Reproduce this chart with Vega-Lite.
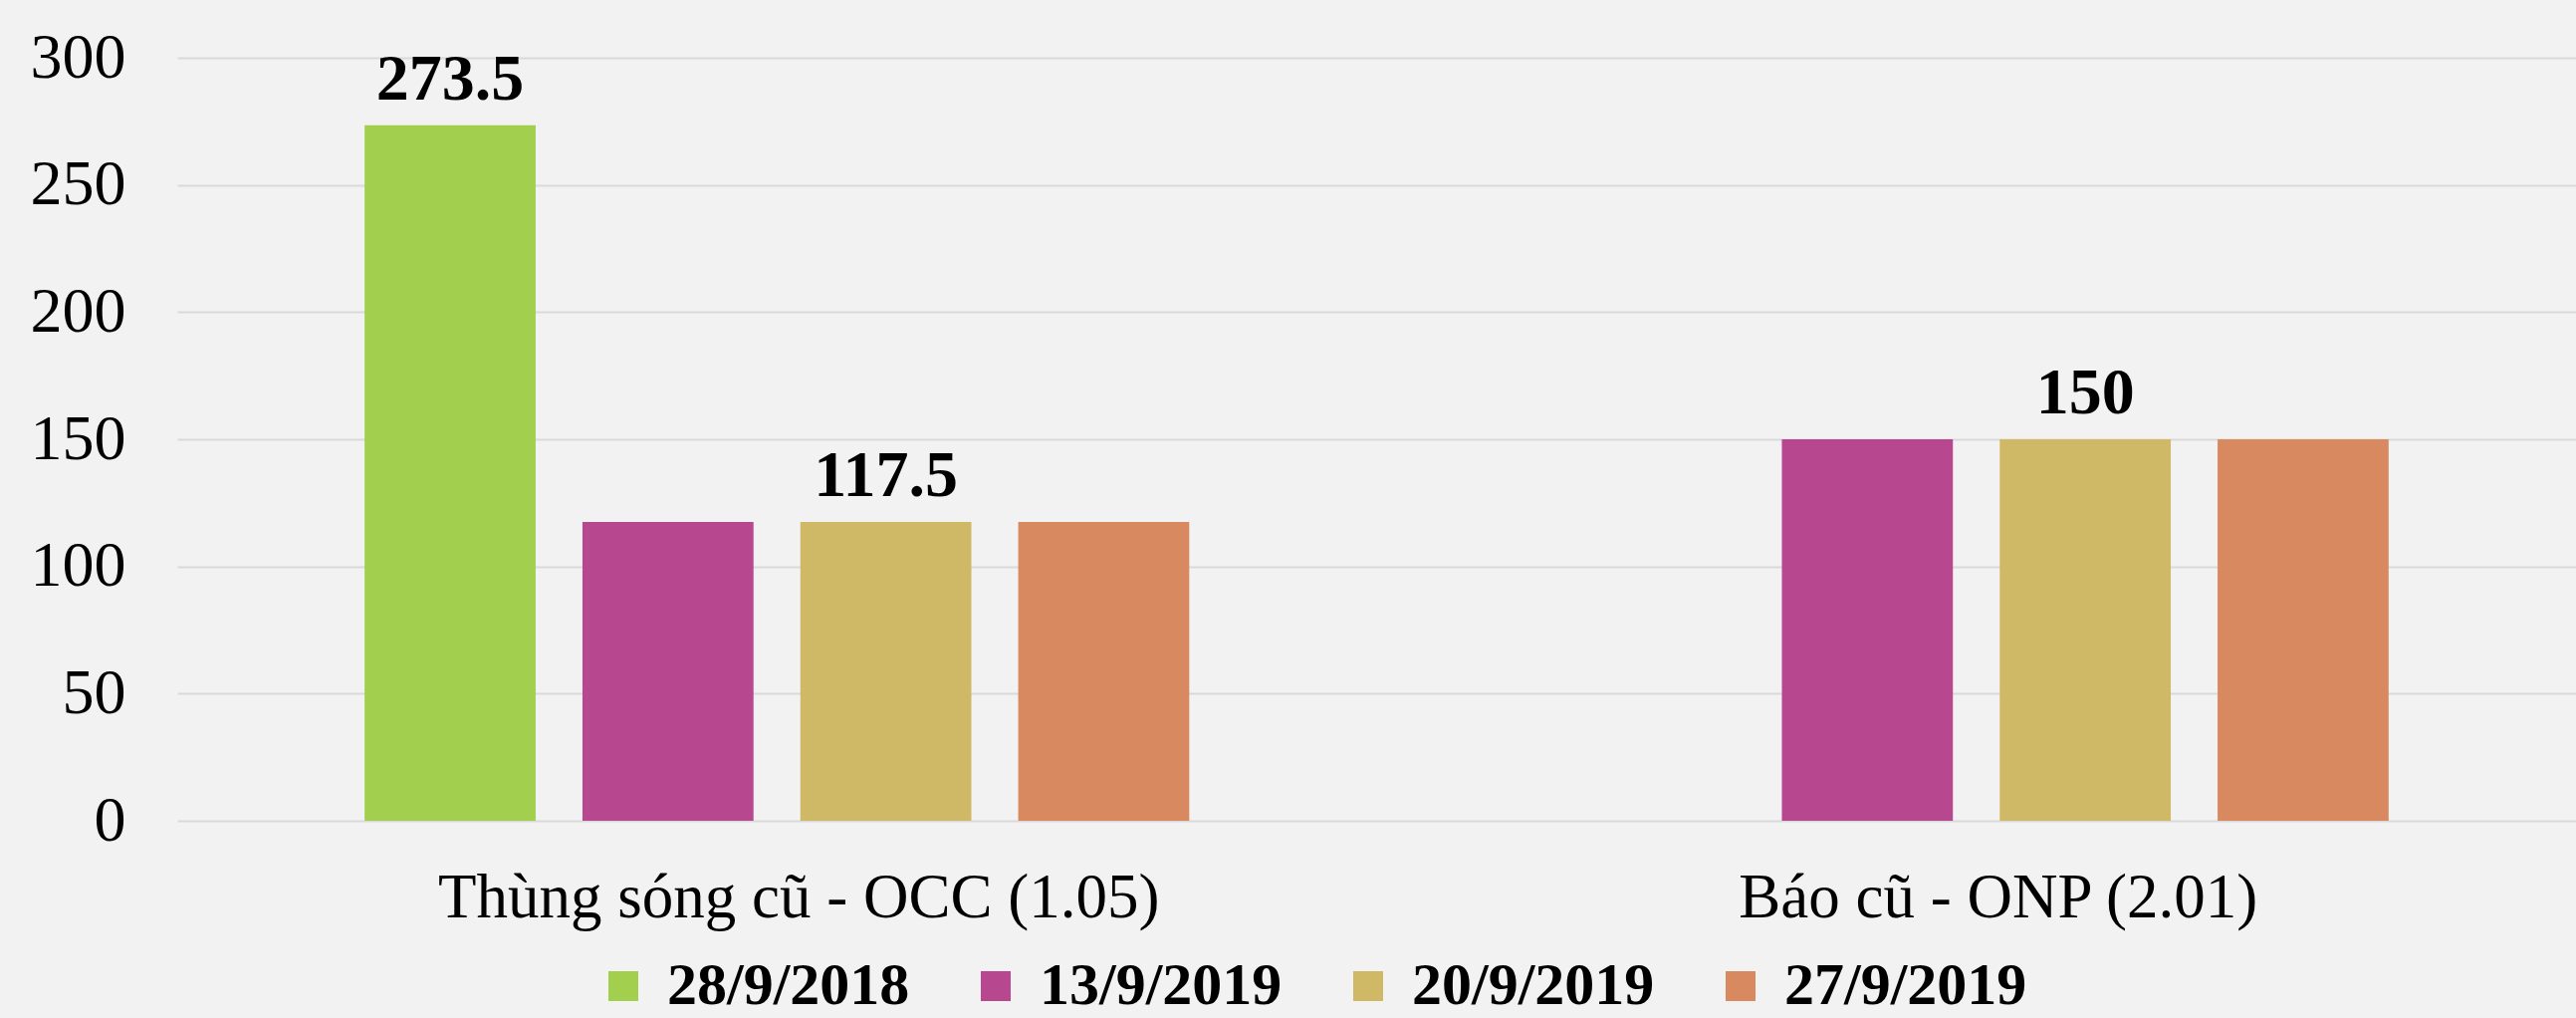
{
  "$schema": "https://vega.github.io/schema/vega-lite/v6.json",
  "autosize": {"type": "none"},
  "padding": {"left": 178, "top": 58, "right": 0, "bottom": 198},
  "width": 2409,
  "height": 766,
  "background": "#f3f2f2",
  "data": {
    "values": [
      {"product": "Thùng sóng cũ - OCC (1.05)", "date": "28/9/2018", "price": 273.5},
      {"product": "Thùng sóng cũ - OCC (1.05)", "date": "13/9/2019", "price": 117.5},
      {"product": "Thùng sóng cũ - OCC (1.05)", "date": "20/9/2019", "price": 117.5},
      {"product": "Thùng sóng cũ - OCC (1.05)", "date": "27/9/2019", "price": 117.5},
      {"product": "Báo cũ - ONP (2.01)", "date": "13/9/2019", "price": 150},
      {"product": "Báo cũ - ONP (2.01)", "date": "20/9/2019", "price": 150},
      {"product": "Báo cũ - ONP (2.01)", "date": "27/9/2019", "price": 150}
    ]
  },
  "encoding": {
    "x": {
      "field": "product", "type": "nominal",
      "sort": ["Thùng sóng cũ - OCC (1.05)", "Báo cũ - ONP (2.01)"],
      "scale": {"paddingInner": 0, "paddingOuter": 0},
      "axis": {"title": null, "labelAngle": 0, "domain": false, "ticks": false, "labelPadding": 46, "labelOffset": 22, "labelFontSize": 63, "labelLimit": 0, "labelFont": "Liberation Serif", "labelColor": "#000000"}
    },
    "xOffset": {
      "field": "date", "type": "nominal",
      "sort": ["28/9/2018", "13/9/2019", "20/9/2019", "27/9/2019"],
      "scale": {"domain": ["28/9/2018", "13/9/2019", "20/9/2019", "27/9/2019"], "paddingInner": 0.215, "paddingOuter": 0.86}
    },
    "y": {
      "field": "price", "type": "quantitative",
      "scale": {"domain": [0, 300], "nice": false},
      "axis": {"title": null, "values": [0, 50, 100, 150, 200, 250, 300], "domain": false, "ticks": false, "labelPadding": 52, "labelFontSize": 64, "labelFont": "Liberation Serif", "labelColor": "#000000", "gridColor": "#d9d9d9", "gridWidth": 2}
    }
  },
  "layer": [
    {
      "mark": {"type": "bar"},
      "encoding": {
        "color": {
          "field": "date", "type": "nominal",
          "scale": {"domain": ["28/9/2018", "13/9/2019", "20/9/2019", "27/9/2019"], "range": ["#a2cf4e", "#b74890", "#cfb967", "#d98960"]},
          "legend": {
            "title": null, "orient": "none", "direction": "horizontal",
            "legendX": 418, "legendY": 902,
            "symbolType": "square", "symbolSize": 900, "symbolStrokeWidth": 0,
            "labelFont": "Liberation Serif", "labelFontSize": 60, "labelFontWeight": "bold", "labelColor": "#000000",
            "labelOffset": 14, "columnPadding": 56, "labelLimit": 400
          }
        }
      }
    },
    {
      "transform": [{"filter": "datum.date == '28/9/2018' || datum.date == '20/9/2019'"}],
      "mark": {"type": "text", "baseline": "alphabetic", "dy": -26, "font": "Liberation Serif", "fontSize": 66, "fontWeight": "bold", "color": "#000000"},
      "encoding": {"text": {"field": "price", "type": "quantitative"}}
    }
  ],
  "config": {"view": {"stroke": null}}
}
